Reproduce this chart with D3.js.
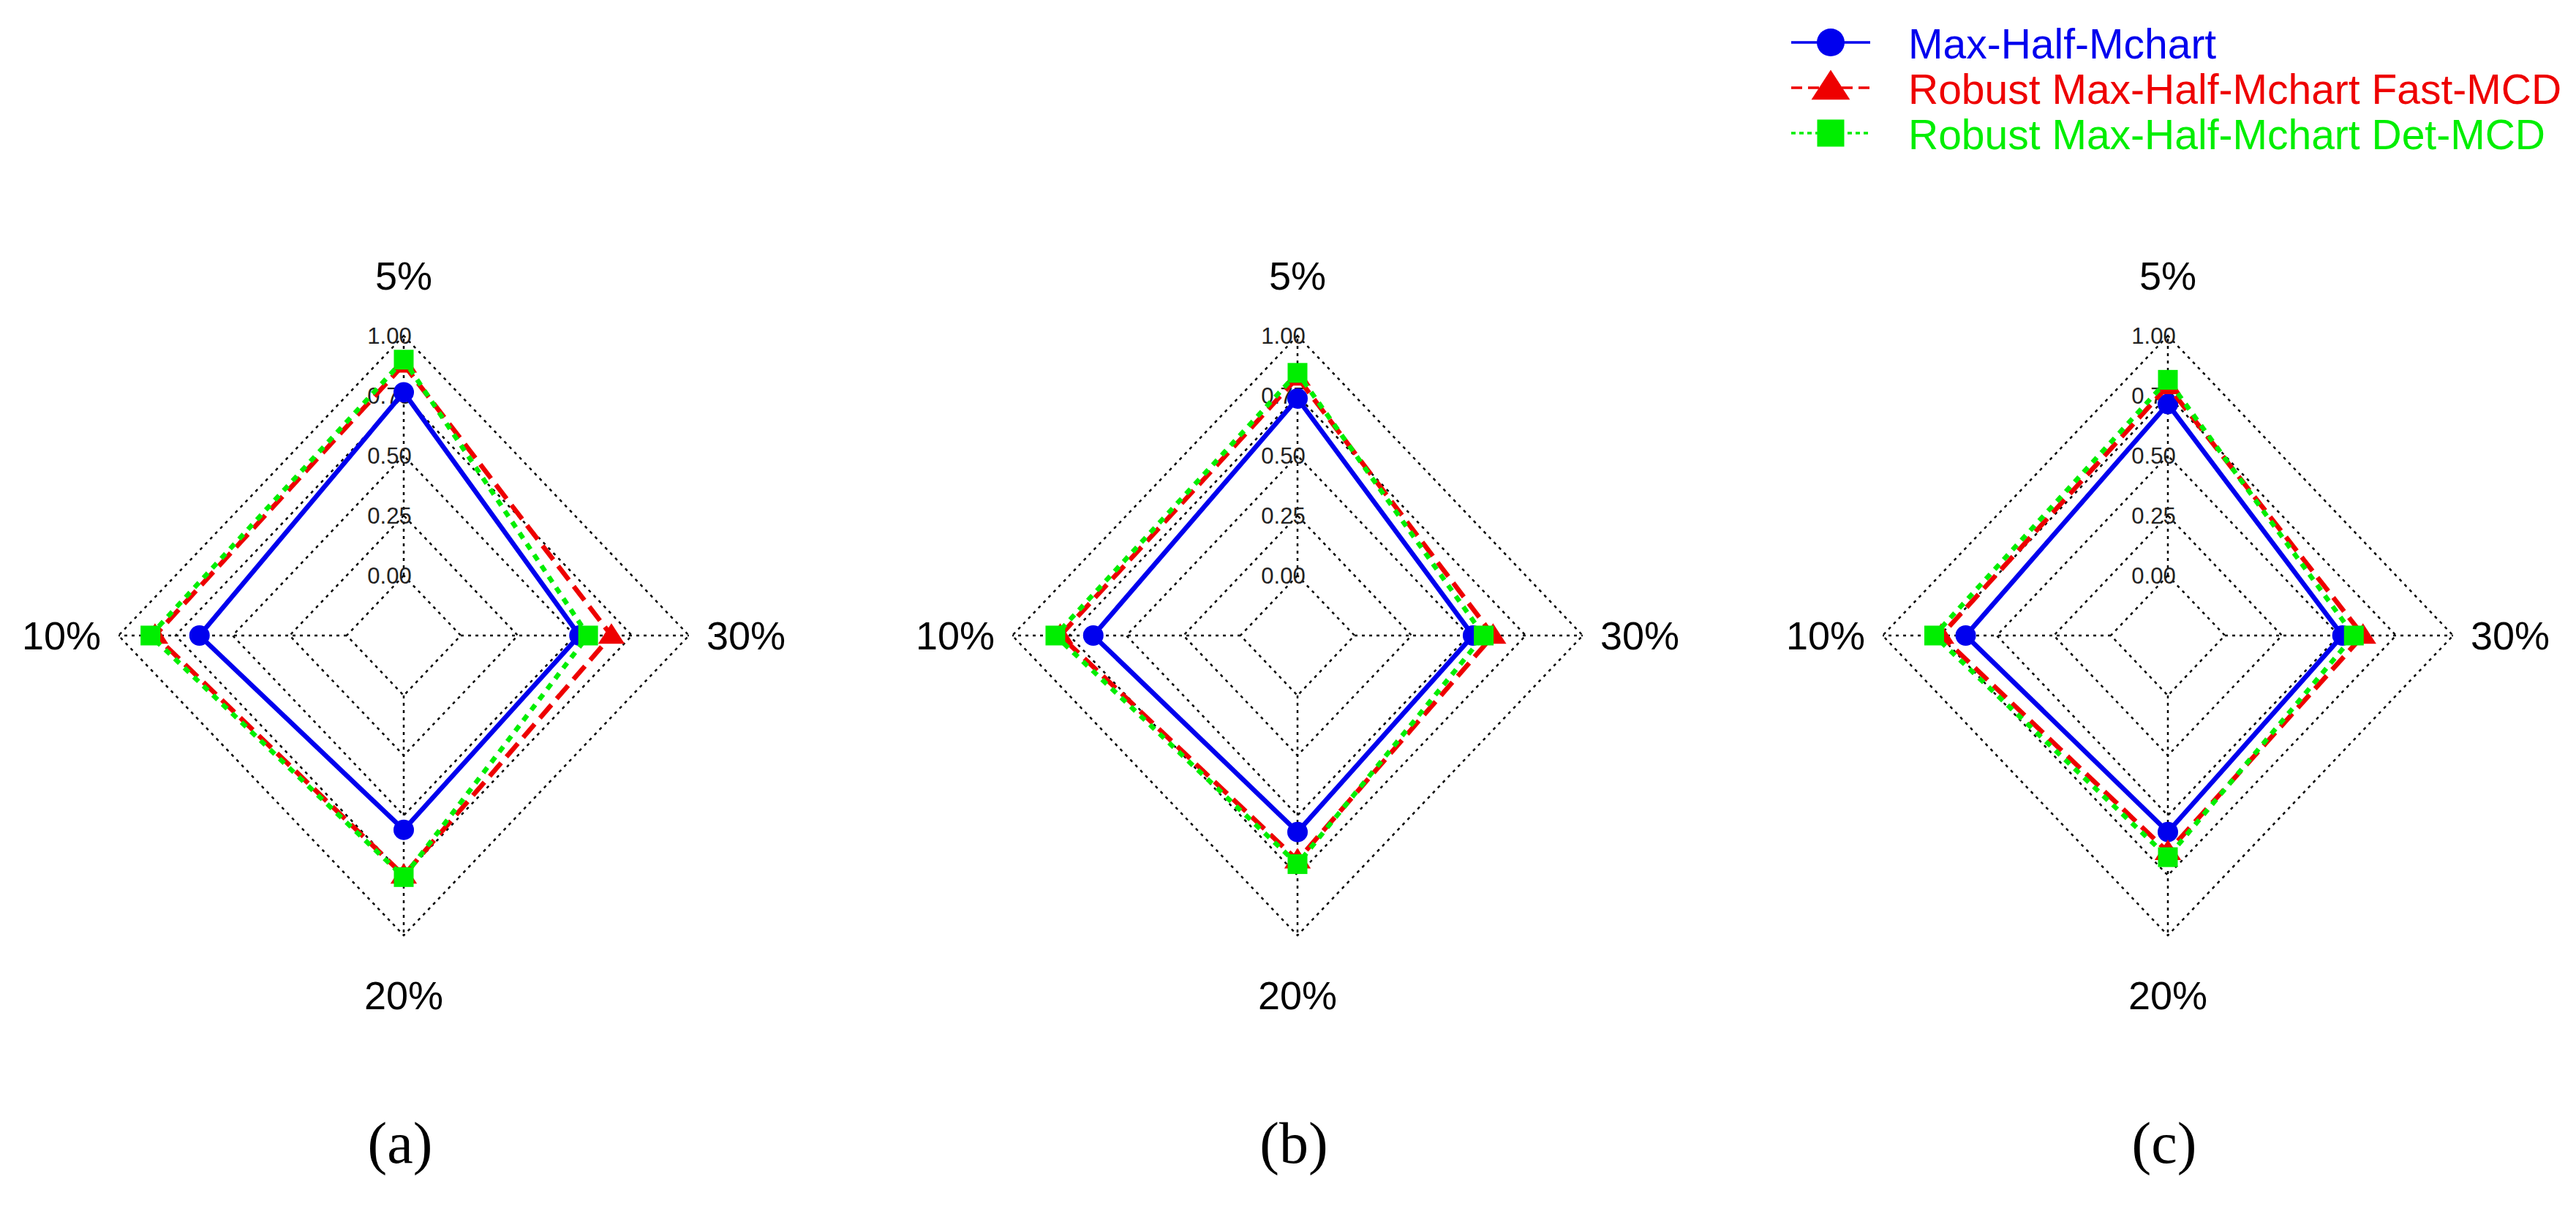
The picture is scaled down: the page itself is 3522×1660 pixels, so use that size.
<!DOCTYPE html>
<html lang="en">

<head>
  <meta charset="UTF-8">
  <script src="https://d3js.org/d3.v7.min.js" charset="utf-8"></script>
  <title>Radar charts</title>
  <style>
    body { margin: 0px; background: #fff; }
    text { font-family: "Liberation Sans", Arial, sans-serif; }
  </style>
</head>

<body>
  <script type="text/javascript">

    // axes, from top going counter-clockwise
    var axisLabels = ["5%", "10%", "20%", "30%"];
    var tickLabels = ["0.00", "0.25", "0.50", "0.75", "1.00"];
    var tickValues = [0, 0.25, 0.5, 0.75, 1];
    var panelNames = ["(a)", "(b)", "(c)"];
    var seriesNames = ["Max-Half-Mchart", "Robust Max-Half-Mchart Fast-MCD", "Robust Max-Half-Mchart Det-MCD"];

    // values read per panel: [5%, 10%, 20%, 30%]
    var maxHalfA = [0.764, 0.645, 0.560, 0.520];
    var fastMcdA = [0.880, 0.840, 0.750, 0.660];
    var detMcdA  = [0.900, 0.860, 0.757, 0.558];

    var maxHalfB = [0.738, 0.645, 0.569, 0.519];
    var fastMcdB = [0.826, 0.790, 0.687, 0.607];
    var detMcdB  = [0.845, 0.811, 0.703, 0.566];

    var maxHalfC = [0.715, 0.636, 0.569, 0.515];
    var fastMcdC = [0.790, 0.744, 0.652, 0.605];
    var detMcdC  = [0.816, 0.774, 0.674, 0.565];

    var panels = [
      [maxHalfA, fastMcdA, detMcdA],
      [maxHalfB, fastMcdB, detMcdB],
      [maxHalfC, fastMcdC, detMcdC]
    ];

    var W = 3522, H = 1660;
    var centersX = [552, 1774, 2964];
    var cy = 869;
    var rx = 390, ry = 410;

    var colors = ["#0000ee", "#ee0000", "#00ee00"];
    var dashes = [null, "24 11", "9 9"];
    var shapes = ["circle", "triangle", "square"];
    var markSize = [28, 33, 27];

    var svg = d3.select("body")
      .append("svg")
      .attr("width", W)
      .attr("height", H);

    // value -> fraction of radius (0 sits on the inner ring, like fmsb)
    var rScale = d3.scaleLinear().domain([0, 1]).range([0.2, 1]);
    var angle = d3.scaleLinear().domain([0, axisLabels.length]).range([Math.PI / 2, Math.PI / 2 + 2 * Math.PI]);

    function px(i, f) { return Math.cos(angle(i)) * f * rx; }
    function py(i, f) { return -Math.sin(angle(i)) * f * ry; }

    function drawMarker(g, shape, x, y, s, col) {
      if (shape == "circle") {
        g.append("circle").attr("cx", x).attr("cy", y).attr("r", s / 2).attr("fill", col);
      } else if (shape == "square") {
        g.append("rect").attr("x", x - s / 2).attr("y", y - s / 2).attr("width", s).attr("height", s).attr("fill", col);
      } else {
        var h = s * 0.85;
        g.append("path")
          .attr("d", "M" + x + "," + (y - h * 0.6) + "L" + (x + s * 0.55) + "," + (y + h * 0.4) + "L" + (x - s * 0.55) + "," + (y + h * 0.4) + "Z")
          .attr("fill", col);
      }
    }

    panels.forEach(function (series, p) {
      var g = svg.append("g")
        .attr("transform", "translate(" + centersX[p] + "," + cy + ")");

      // grid rings
      tickValues.forEach(function (t) {
        var f = rScale(t);
        var pts = axisLabels.map(function (a, i) { return [px(i, f), py(i, f)]; });
        g.append("path")
          .attr("d", d3.line().curve(d3.curveLinearClosed)(pts))
          .attr("fill", "none")
          .attr("stroke", "#000")
          .attr("stroke-width", 2.5)
          .attr("stroke-dasharray", "4 6");
      });

      // spokes from inner ring to outer ring
      axisLabels.forEach(function (a, i) {
        g.append("line")
          .attr("x1", px(i, rScale(0))).attr("y1", py(i, rScale(0)))
          .attr("x2", px(i, 1)).attr("y2", py(i, 1))
          .attr("stroke", "#000")
          .attr("stroke-width", 2.5)
          .attr("stroke-dasharray", "4 6");
      });

      // axis names
      axisLabels.forEach(function (a, i) {
        g.append("text")
          .attr("x", px(i, 1.2))
          .attr("y", py(i, 1.2))
          .attr("text-anchor", "middle")
          .attr("dominant-baseline", "central")
          .attr("font-size", 54)
          .attr("fill", "#000")
          .text(a);
      });

      // tick labels along top axis
      tickValues.forEach(function (t, k) {
        g.append("text")
          .attr("x", -0.05 * rx)
          .attr("y", py(0, rScale(t)))
          .attr("text-anchor", "middle")
          .attr("dominant-baseline", "central")
          .attr("font-size", 31)
          .attr("fill", "#222")
          .text(tickLabels[k]);
      });

      // series
      series.forEach(function (vals, s) {
        var pts = vals.map(function (v, i) { return [px(i, rScale(v)), py(i, rScale(v))]; });
        g.append("path")
          .attr("d", d3.line().curve(d3.curveLinearClosed)(pts))
          .attr("fill", "none")
          .attr("stroke", colors[s])
          .attr("stroke-width", 6.5)
          .attr("stroke-dasharray", dashes[s]);
        pts.forEach(function (pt) {
          drawMarker(g, shapes[s], pt[0], pt[1], markSize[s], colors[s]);
        });
      });

      svg.append("text")
        .attr("x", centersX[p] - 5)
        .attr("y", 1590)
        .attr("text-anchor", "middle")
        .attr("font-size", 80)
        .style("font-family", "'Liberation Serif', 'Times New Roman', serif")
        .attr("fill", "#000")
        .text(panelNames[p]);
    });

    // legend
    var leg = svg.append("g").attr("transform", "translate(2449,0)");
    seriesNames.forEach(function (name, s) {
      var y = 58 + s * 62;
      leg.append("line")
        .attr("x1", 0).attr("x2", 108)
        .attr("y1", y).attr("y2", y)
        .attr("stroke", colors[s])
        .attr("stroke-width", 3.5)
        .attr("stroke-dasharray", s == 0 ? null : (s == 1 ? "15 8" : "6 5"));
      drawMarker(leg, shapes[s], 54, y, s == 0 ? 38 : (s == 1 ? 48 : 37), colors[s]);
      leg.append("text")
        .attr("x", 160)
        .attr("y", y + 22)
        .attr("font-size", 57)
        .attr("fill", colors[s])
        .text(name);
    });

  </script>
</body>

</html>
